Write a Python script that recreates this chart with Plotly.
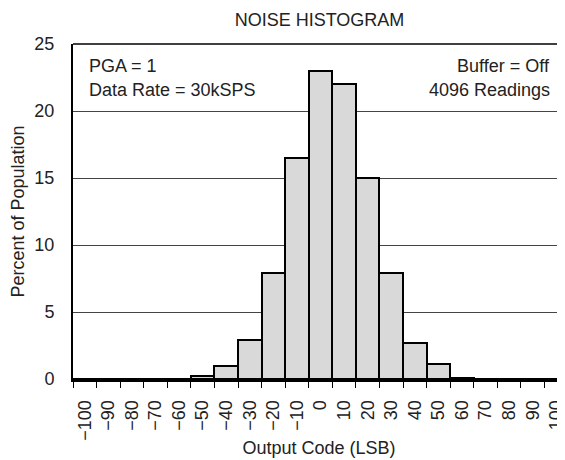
import plotly.graph_objects as go

codes = ["\u2212100", "\u221290", "\u221280", "\u221270", "\u221260", "\u221250", "\u221240", "\u221230", "\u221220", "\u221210",
         "0", "10", "20", "30", "40", "50", "60", "70", "80", "90", "100"]
percent = [0, 0, 0, 0, 0, 0.2, 1.0, 2.9, 7.9, 16.5, 23.0, 22.0, 15.0, 7.9, 2.7, 1.1, 0.1, 0, 0, 0, 0]
y_ticks = [0, 5, 10, 15, 20, 25]

FONT = "Liberation Sans, Arial, Helvetica, sans-serif"
TXT = "#222"
FS = 18

fig = go.Figure()
fig.add_trace(go.Bar(
    x=codes, y=percent,
    marker=dict(color="#d9d9d9", line=dict(color="black", width=2)),
    hoverinfo="x+y",
))

fig.update_layout(
    width=557, height=452,
    margin=dict(l=65, r=0, t=36, b=81),
    paper_bgcolor="white", plot_bgcolor="white",
    bargap=0,
    showlegend=False,
    font=dict(family=FONT, size=FS, color=TXT),
    title=dict(text="NOISE HISTOGRAM", x=(319.5 - 8) / 557, xanchor="center",
               y=1 - 12 / 452, yanchor="middle",
               font=dict(family=FONT, size=FS, color=TXT)),
)

fig.update_xaxes(
    type="category",
    range=[-0.5, 20.37],
    tickson="boundaries",
    ticks="outside", ticklen=6, tickwidth=1, tickcolor="black",
    tickangle=-90, ticklabelstandoff=11,
    tickfont=dict(family=FONT, size=FS, color=TXT),
    showline=True, linecolor="black", linewidth=3,
    showgrid=False, zeroline=False,
    title=dict(text="Output Code (LSB)", font=dict(family=FONT, size=FS, color=TXT), standoff=2),
)

fig.update_yaxes(
    range=[0, 25],
    tickvals=y_ticks,
    ticks="", ticklabelstandoff=13,
    tickfont=dict(family=FONT, size=FS, color=TXT),
    showline=True, linecolor="black", linewidth=2,
    showgrid=True, gridcolor="#444", gridwidth=1,
    zeroline=False,
    title=dict(text="Percent of Population", font=dict(family=FONT, size=FS, color=TXT), standoff=10),
)

# top border
fig.add_shape(type="line", xref="paper", yref="paper", x0=0, x1=1, y0=1, y1=1,
              line=dict(color="black", width=1.5))

ann_font = dict(family=FONT, size=FS, color=TXT)
fig.add_annotation(text="PGA = 1", xref="paper", yref="y", x=0.0285, y=23.36,
                   xanchor="left", yanchor="middle", showarrow=False, font=ann_font)
fig.add_annotation(text="Data Rate = 30kSPS", xref="paper", yref="y", x=0.0285, y=21.57,
                   xanchor="left", yanchor="middle", showarrow=False, font=ann_font)
fig.add_annotation(text="Buffer = Off", xref="paper", yref="y", x=0.9736, y=23.36,
                   xanchor="right", yanchor="middle", showarrow=False, font=ann_font)
fig.add_annotation(text="4096 Readings", xref="paper", yref="y", x=0.9736, y=21.57,
                   xanchor="right", yanchor="middle", showarrow=False, font=ann_font)

fig.write_html("out.html")
